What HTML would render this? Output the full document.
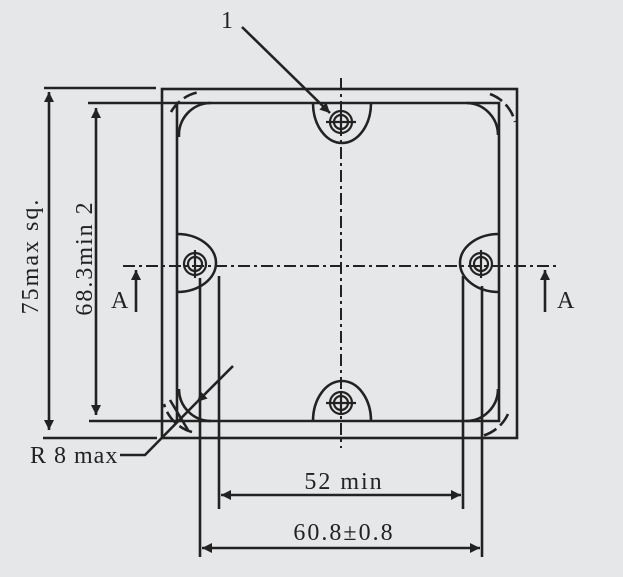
<!DOCTYPE html>
<html><head><style>html,body{margin:0;padding:0;background:#e6e7e9;}svg{display:block}</style></head>
<body>
<svg width="623" height="577" viewBox="0 0 623 577" xmlns="http://www.w3.org/2000/svg">
<defs>
<marker id="ar" viewBox="0 0 10 10" refX="10" refY="5" markerWidth="16" markerHeight="10" markerUnits="userSpaceOnUse" orient="auto-start-reverse"><path d="M0,0L10,5L0,10z" fill="#222"/></marker>
</defs>
<g stroke="#222" stroke-width="2.6" fill="none">
<rect x="162" y="89" width="355" height="349"/>
<path d="M177,103 L499,103 L499,421 L177,421 Z"/>
<path d="M179,137 A32,32 0 0 1 211,103 M467,103 A32,32 0 0 1 498,135 M498,389 A32,32 0 0 1 466,421 M211,421 A32,32 0 0 1 179,389"/>
<line x1="44" y1="88" x2="156" y2="88"/>
<line x1="88" y1="103" x2="177" y2="103"/>
<line x1="89" y1="421" x2="177" y2="421"/>
<line x1="43" y1="438" x2="157" y2="438"/>
<path d="M171,112 A40,40 0 0 1 200,92" stroke-dasharray="14,5"/>
<path d="M490,94 A40,40 0 0 1 515,122" stroke-dasharray="14,5"/>
<path d="M508,414 A40,40 0 0 1 482,436" stroke-dasharray="14,5"/>
<path d="M192,432 A40,40 0 0 1 164,404" stroke-dasharray="14,5"/>
<path d="M313,103 A29,40 0 0 0 371,103"/>
<path d="M313,421 A29,40 0 0 1 371,421"/>
<path d="M177,234 A39,29 0 0 1 177,292"/>
<path d="M499,234 A39,29 0 0 0 499,292"/>
<g stroke-width="2.2">
<circle cx="341" cy="122" r="11"/><circle cx="341" cy="122" r="7"/>
<circle cx="341" cy="403" r="11"/><circle cx="341" cy="403" r="7"/>
<circle cx="195" cy="264" r="11"/><circle cx="195" cy="264" r="7"/>
<circle cx="481" cy="264" r="11"/><circle cx="481" cy="264" r="7"/>
<path d="M326,122h30M341,110v24M326,403h30M341,391v24M195,250v28M481,250v28"/>
</g>
<line x1="341" y1="78" x2="341" y2="448" stroke-width="2" stroke-dasharray="12,4,3,4"/>
<line x1="123" y1="266" x2="558" y2="266" stroke-width="2" stroke-dasharray="12,4,3,4"/>
<line x1="200" y1="278" x2="200" y2="557"/>
<line x1="219" y1="276" x2="219" y2="509"/>
<line x1="463" y1="276" x2="463" y2="509"/>
<line x1="482" y1="286" x2="482" y2="557"/>
<line x1="49" y1="92" x2="49" y2="430" marker-start="url(#ar)" marker-end="url(#ar)"/>
<line x1="96" y1="108" x2="96" y2="415" marker-start="url(#ar)" marker-end="url(#ar)"/>
<line x1="221" y1="495" x2="461" y2="495" marker-start="url(#ar)" marker-end="url(#ar)"/>
<line x1="202" y1="548" x2="480" y2="548" marker-start="url(#ar)" marker-end="url(#ar)"/>
<line x1="242" y1="27" x2="330" y2="113" marker-end="url(#ar)"/>
<line x1="233" y1="366" x2="197" y2="402" marker-end="url(#ar)"/>
<path d="M197,402 L145,455 L120,455"/>
<line x1="170" y1="400" x2="188" y2="430"/>
<line x1="136" y1="312" x2="136" y2="270" marker-end="url(#ar)"/>
<line x1="545" y1="312" x2="545" y2="270" marker-end="url(#ar)"/>
</g>
<g font-family="Liberation Serif, serif" fill="#222" font-size="24" letter-spacing="2">
<text x="221" y="28">1</text>
<text x="111" y="308">A</text>
<text x="557" y="308">A</text>
<text x="30" y="463" letter-spacing="1">R 8 max</text>
<text x="344" y="489" text-anchor="middle">52 min</text>
<text x="344" y="540" text-anchor="middle">60.8±0.8</text>
<text transform="translate(38,256) rotate(-90)" text-anchor="middle">75max sq.</text>
<text transform="translate(92,258) rotate(-90)" text-anchor="middle">68.3min  2</text>
</g>
</svg>
</body></html>
